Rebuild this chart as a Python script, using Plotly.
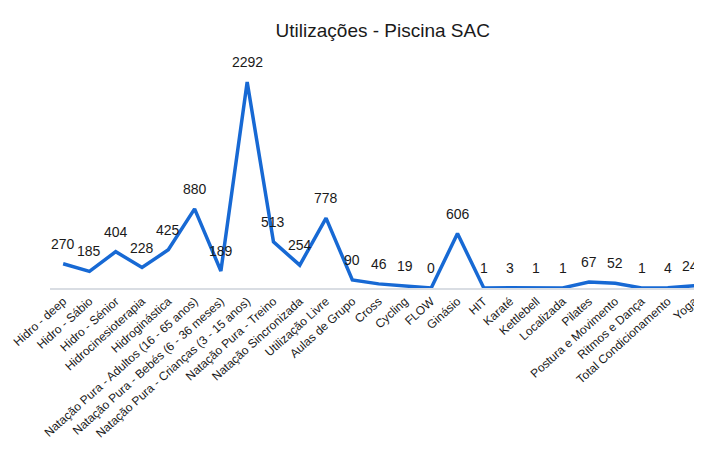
import plotly.graph_objects as go

# --- data ---
categories = [
    "Hidro - deep", "Hidro - Sábio", "Hidro - Sénior", "Hidrocinesioterapia",
    "Hidroginástica", "Natação Pura - Adultos (16 - 65 anos)",
    "Natação Pura - Bebés (6 - 36 meses)", "Natação Pura - Crianças (3 - 15 anos)",
    "Natação Pura - Treino", "Natação Sincronizada", "Utilização Livre",
    "Aulas de Grupo", "Cross", "Cycling", "FLOW", "Ginásio", "HIT", "Karaté",
    "Kettlebell", "Localizada", "Pilates", "Postura e Movimento",
    "Ritmos e Dança", "Total Condicionamento", "Yoga",
]
utilizacoes = [270, 185, 404, 228, 425, 880, 189, 2292, 513, 254, 778,
               90, 46, 19, 0, 606, 1, 3, 1, 1, 67, 52, 1, 4, 24]

FONT = "Liberation Sans, Arial, sans-serif"

fig = go.Figure()
fig.add_trace(
    go.Scatter(
        x=categories,
        y=utilizacoes,
        mode="lines",
        line=dict(color="#1769d4", width=3.5),
        showlegend=False,
        hoverinfo="x+y",
    )
)

# value labels floating a bit above each point
last = len(categories) - 1
for i, (cat, val) in enumerate(zip(categories, utilizacoes)):
    fig.add_annotation(
        x=cat, y=val, text=str(val), showarrow=False,
        yanchor="bottom", yshift=10,
        # last label hugs the right edge so it isn't clipped
        xanchor="right" if i == last else "center",
        xshift=6 if i == last else 0,
        font=dict(family=FONT, size=14, color="#1a1a1a"),
    )

# page body has an 8px margin, so the figure is a bit smaller than the window
fig.update_layout(
    width=694,
    height=456,
    paper_bgcolor="white",
    plot_bgcolor="white",
    margin=dict(l=42, r=0, t=52, b=176),
    title=dict(
        text="Utilizações - Piscina SAC",
        x=0.54,
        xanchor="center",
        y=0.952,
        yanchor="middle",
        font=dict(family=FONT, size=19, color="#1a1a1a"),
    ),
    xaxis=dict(
        type="category",
        range=[-0.5, 24.3],
        tickangle=-42,
        tickfont=dict(family=FONT, size=12, color="#1a1a1a"),
        showline=True,
        linecolor="#d9dde3",
        linewidth=1.5,
        showgrid=False,
        ticks="",
        automargin=False,
    ),
    yaxis=dict(
        range=[0, 2537],
        visible=False,
        showgrid=False,
        zeroline=False,
    ),
)

fig.write_html("out.html")
